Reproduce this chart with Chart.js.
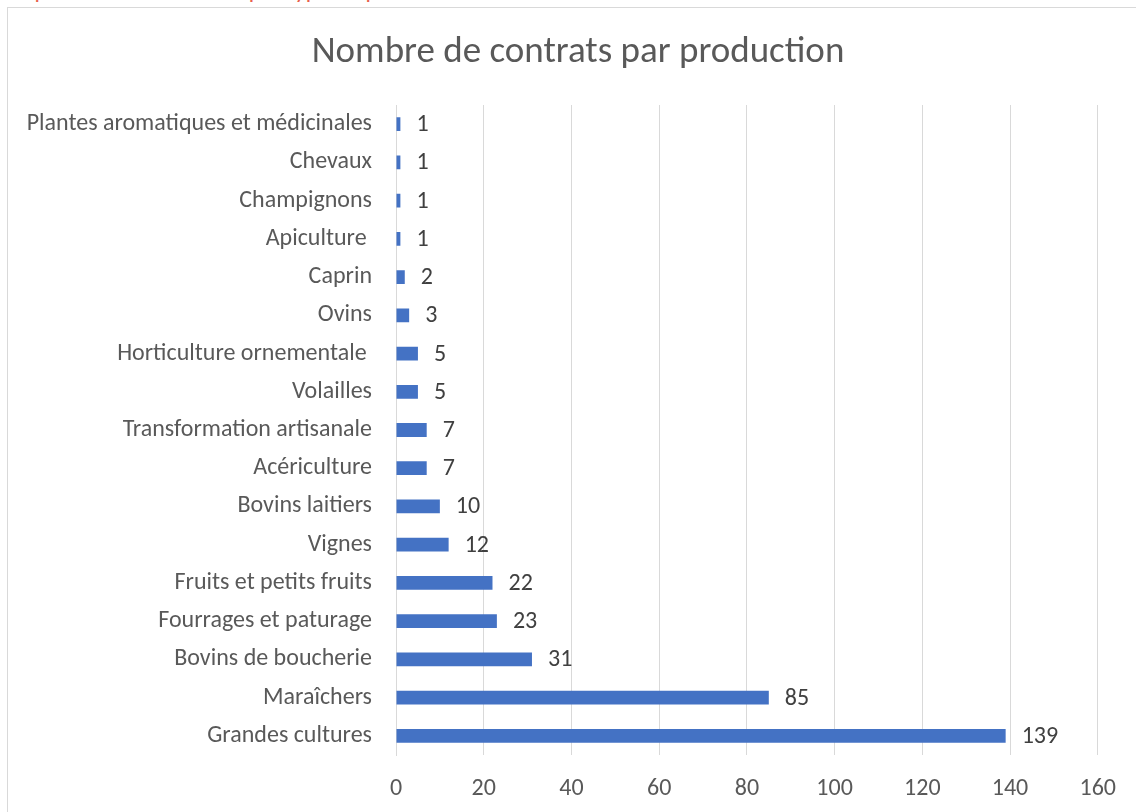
<!DOCTYPE html>
<html><head><meta charset="utf-8">
<script src="https://cdn.jsdelivr.net/npm/chart.js@4/dist/chart.umd.min.js"></script>
<style>
html,body{margin:0;padding:0;background:#fff;width:1136px;height:812px;overflow:hidden;font-family:Carlito,Lato,sans-serif;}
#top{position:absolute;left:10px;top:-22px;font-size:24px;line-height:24px;color:#e8604c;white-space:nowrap;}
#frame{position:absolute;left:7px;top:7px;width:1140px;height:820px;border:1px solid #d9d9d9;box-sizing:border-box;background:#fff;}
#wrap{position:absolute;left:8px;top:8px;width:1128px;height:804px;}
</style></head><body>
<div id="top">Répartition des contrats par type de production</div>
<div id="frame"></div>
<div id="wrap"><canvas id="c" width="1128" height="804"></canvas></div>
<script>
const categories = ["Plantes aromatiques et médicinales","Chevaux","Champignons","Apiculture ","Caprin","Ovins","Horticulture ornementale ","Volailles","Transformation artisanale","Acériculture","Bovins laitiers","Vignes","Fruits et petits fruits","Fourrages et paturage","Bovins de boucherie","Maraîchers","Grandes cultures"];
const contrats = [1,1,1,1,2,3,5,5,7,7,10,12,22,23,31,85,139];
const xTicks = [0,20,40,60,80,100,120,140,160];
const titleText = "Nombre de contrats par production";

const FONT = "Carlito, Lato, sans-serif";
const labelPlugin = {
  id: 'valueLabels',
  afterDatasetsDraw(chart) {
    const ctx = chart.ctx;
    const meta = chart.getDatasetMeta(0);
    ctx.save();
    ctx.font = "24px " + FONT;
    ctx.fillStyle = "#404040";
    ctx.textAlign = "left";
    ctx.textBaseline = "middle";
    meta.data.forEach((bar, i) => {
      ctx.fillText(String(chart.data.datasets[0].data[i]), bar.x + 16, bar.y + 1);
    });
    ctx.restore();
  }
};
const titlePlugin = {
  id: 'offsetTitle',
  afterDraw(chart) {
    const ctx = chart.ctx;
    ctx.save();
    ctx.font = "37px " + FONT;
    ctx.fillStyle = "#595959";
    ctx.textAlign = "center";
    ctx.textBaseline = "middle";
    ctx.fillText(titleText, 570, 45);
    ctx.restore();
  }
};

new Chart(document.getElementById('c'), {
  type: 'bar',
  data: { labels: categories, datasets: [{ data: contrats, backgroundColor: '#4472C4', categoryPercentage: 1, barPercentage: 0.36 }] },
  options: {
    indexAxis: 'y', responsive: false, animation: false,
    layout: { padding: { left: 0, right: 37, top: 97, bottom: 0 } },
    plugins: {
      legend: { display: false }, tooltip: { enabled: false }, title: { display: false }
    },
    scales: {
      x: {
        min: 0, max: 160,
        afterBuildTicks(axis) { axis.ticks = xTicks.map(v => ({ value: v })); },
        grid: { color: '#d9d9d9', lineWidth: 1, drawTicks: false },
        border: { display: false },
        ticks: { color: '#595959', font: { family: FONT, size: 24 }, padding: 20 },
        afterFit(axis) { axis.height = 57; }
      },
      y: {
        grid: { display: false, drawTicks: false },
        border: { display: true, color: '#d9d9d9' },
        ticks: { color: '#595959', font: { family: FONT, size: 24 }, padding: 24, autoSkip: false },
        afterFit(axis) { axis.width = 388; }
      }
    }
  },
  plugins: [labelPlugin, titlePlugin]
});
</script>
</body></html>
